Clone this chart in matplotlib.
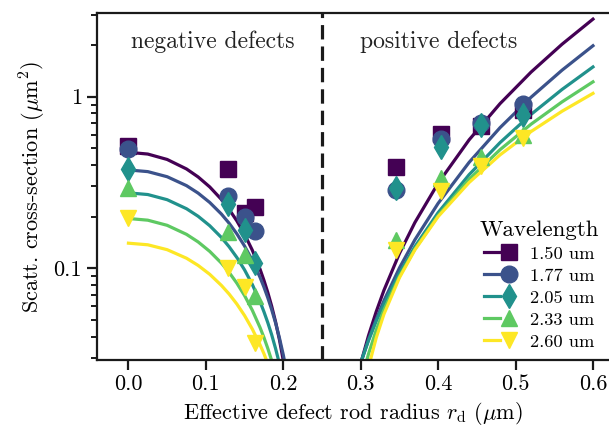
import numpy as np
import matplotlib
matplotlib.use('Agg')
import matplotlib.pyplot as plt
from matplotlib.legend_handler import HandlerTuple

plt.rcParams['font.family'] = 'serif'
plt.rcParams['font.serif'] = ['cmr10', 'DejaVu Serif']
plt.rcParams['mathtext.fontset'] = 'cm'
plt.rcParams['axes.formatter.use_mathtext'] = True

# legend / style info
wavelengths = ['1.50 um', '1.77 um', '2.05 um', '2.33 um', '2.60 um']
colors = ['#440154', '#3b528b', '#21918c', '#5ec962', '#fde725']
markers = ['s', 'o', 'd', '^', 'v']

# simulated points
x_neg = [0.0, 0.128, 0.150, 0.164]
x_pos = [0.346, 0.404, 0.456, 0.509]
sig_neg = [
    [0.515, 0.379, 0.209, 0.227],
    [0.493, 0.265, 0.200, 0.165],
    [0.378, 0.236, 0.167, 0.107],
    [0.292, 0.162, 0.1195, 0.069],
    [0.195, 0.101, 0.078, 0.0366],
]
sig_pos = [
    [0.388, 0.605, 0.674, 0.836],
    [0.286, 0.564, 0.700, 0.906],
    [0.292, 0.507, 0.680, 0.782],
    [0.146, 0.334, 0.447, 0.597],
    [0.128, 0.283, 0.394, 0.578],
]

# model curves
xc_neg = [0.0, 0.025, 0.05, 0.075, 0.09, 0.105, 0.12, 0.13, 0.14, 0.15,
          0.16, 0.17, 0.175, 0.18, 0.185, 0.19, 0.195, 0.2, 0.205]
curve_neg = [
    [0.474, 0.4629, 0.4305, 0.3790, 0.3405, 0.2978, 0.2520, 0.2205, 0.1889, 0.1576,
     0.1274, 0.0987, 0.0851, 0.0722, 0.0601, 0.0488, 0.0384, 0.0290, 0.0208],
    [0.374, 0.3657, 0.3415, 0.3030, 0.2741, 0.2418, 0.2071, 0.1831, 0.1588, 0.1347,
     0.1111, 0.0885, 0.0777, 0.0673, 0.0574, 0.0481, 0.0393, 0.0313, 0.0240],
    [0.275, 0.2689, 0.2509, 0.2223, 0.2009, 0.1770, 0.1513, 0.1335, 0.1156, 0.0978,
     0.0804, 0.0638, 0.0558, 0.0482, 0.0410, 0.0341, 0.0278, 0.0219, 0.0166],
    [0.195, 0.1906, 0.1779, 0.1576, 0.1424, 0.1254, 0.1072, 0.0946, 0.0819, 0.0693,
     0.0569, 0.0451, 0.0395, 0.0341, 0.0290, 0.0241, 0.0196, 0.0155, 0.0118],
    [0.140, 0.1370, 0.1283, 0.1144, 0.1039, 0.0922, 0.0795, 0.0708, 0.0619, 0.0530,
     0.0442, 0.0358, 0.0318, 0.0278, 0.0241, 0.0205, 0.0171, 0.0140, 0.0111],
]
xc_pos = [0.29, 0.30, 0.31, 0.32, 0.33, 0.35, 0.37, 0.40, 0.44, 0.48, 0.52, 0.56, 0.60]
curve_pos = [
    [0.0178, 0.0278, 0.0404, 0.0558, 0.0744, 0.1219, 0.1848, 0.313, 0.560, 0.911, 1.39, 2.02, 2.83],
    [0.0197, 0.0281, 0.0383, 0.0504, 0.0647, 0.1004, 0.1466, 0.239, 0.414, 0.660, 0.992, 1.426, 1.98],
    [0.0200, 0.0281, 0.0378, 0.0491, 0.0620, 0.0937, 0.1337, 0.211, 0.351, 0.540, 0.788, 1.101, 1.49],
    [0.0130, 0.0214, 0.0316, 0.0436, 0.0572, 0.0897, 0.1294, 0.203, 0.330, 0.491, 0.691, 0.932, 1.22],
    [0.0061, 0.0152, 0.0264, 0.0393, 0.0540, 0.0881, 0.128, 0.200, 0.316, 0.458, 0.626, 0.822, 1.045],
]

fig = plt.figure(figsize=(6.09, 4.30), dpi=100)
ax = fig.add_axes([96.7 / 609, 70 / 430, 1 - 96.7 / 609, (360 - 13.3) / 430])

handles = []
for i in range(len(wavelengths)):
    ln, = ax.plot(xc_neg, curve_neg[i], color=colors[i], lw=2.3, zorder=2)
    ax.plot(xc_pos, curve_pos[i], color=colors[i], lw=2.3, zorder=2)
    mk, = ax.plot(x_neg + x_pos, sig_neg[i] + sig_pos[i], ls='none', marker=markers[i],
                  ms=12, color=colors[i], zorder=3)
    handles.append((ln, mk))

ax.axvline(0.25, color='#1a1a1a', ls=(0, (4.5, 2.2)), lw=2.3, zorder=1)

ax.set_yscale('log')
ax.set_xlim(-0.041, 0.6207)
ax.set_ylim(0.0292, 3.06)
ax.set_xticks([0.0, 0.1, 0.2, 0.3, 0.4, 0.5, 0.6])
ax.set_xticklabels(['0.0', '0.1', '0.2', '0.3', '0.4', '0.5', '0.6'])
ax.set_yticks([0.1, 1])
ax.set_yticklabels(['0.1', '1'])
ax.tick_params(which='major', length=7, width=1.6, labelsize=16, color='#1a1a1a')
ax.tick_params(which='minor', length=4.3, width=1.4, color='#1a1a1a')
ax.tick_params(axis='x', which='minor', bottom=False)
for s in ax.spines.values():
    s.set_linewidth(1.6)
    s.set_color('#1a1a1a')
ax.spines['right'].set_visible(False)

ax.set_xlabel(r'Effective defect rod radius $r_{\rm d}$ ($\mu$m)', fontsize=16)
ax.set_ylabel(r'Scatt. cross-section ($\mu$m$^2$)', fontsize=16)

ax.text(0.109, 2.08, 'negative defects', ha='center', va='center', fontsize=17, color='#222222')
ax.text(0.4005, 2.08, 'positive defects', ha='center', va='center', fontsize=17, color='#222222')

leg = ax.legend(handles, wavelengths, handler_map={tuple: HandlerTuple(ndivide=None, pad=0)},
                loc='lower right', bbox_to_anchor=(1.0, 0.0), frameon=False,
                fontsize=13.3, title='Wavelength', title_fontsize=16.5,
                handlelength=1.8, handletextpad=0.7, labelspacing=0.33, borderaxespad=0.15)

fig.savefig('out.png', dpi=100)
